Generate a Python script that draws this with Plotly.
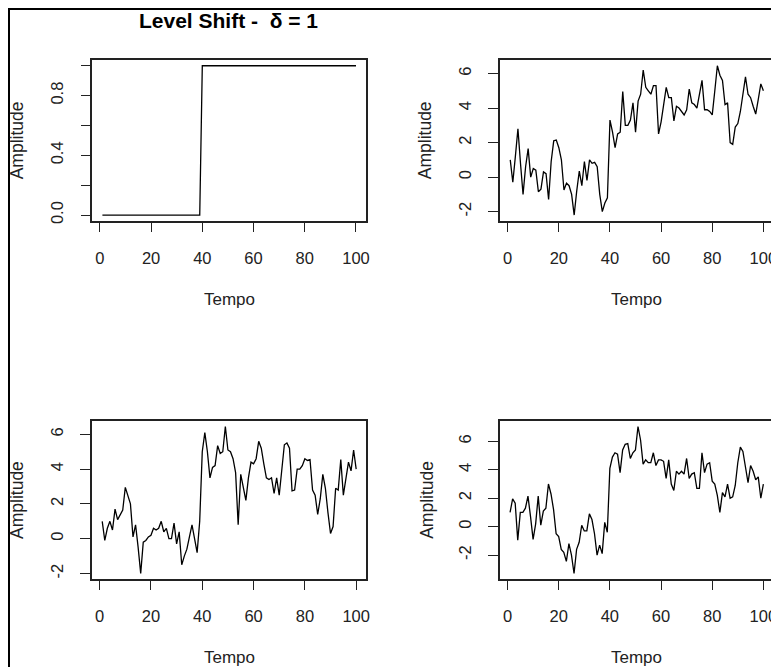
import plotly.graph_objects as go

# The page adds an 8px body margin, so the figure is shrunk and all
# reference pixel positions are shifted by that margin.
PAGE_W, PAGE_H = 779, 670
OFF = 8
W, H = PAGE_W - OFF, PAGE_H - OFF

tempo = list(range(1, 101))

# Panel 1: level shift indicator
shift = [0.0] * 39 + [1.0] * 61

# Panel 2
serie2 = [1.0, -0.3, 1.2, 2.8, 0.8, -1.0, 0.6, 1.65, 0.0, 0.5,
          0.4, -0.85, -0.7, 0.3, 0.2, -1.3, 0.9, 2.1, 2.15, 1.7,
          1.0, -0.75, -0.35, -0.5, -1.0, -2.2, -0.8, 0.35, -0.5, 0.9,
          -0.2, 1.0, 0.8, 0.85, 0.6, -1.0, -2.0, -1.5, -1.2, 3.3,
          2.6, 1.7, 2.5, 2.6, 4.95, 3.0, 3.0, 3.3, 4.3, 2.6,
          4.4, 4.8, 6.2, 5.2, 5.0, 4.8, 5.3, 5.3, 2.5, 3.2,
          4.2, 5.2, 4.6, 4.6, 3.25, 4.1, 4.0, 3.8, 3.6, 3.9,
          5.1, 4.3, 4.2, 4.0, 4.8, 5.6, 3.9, 3.9, 3.8, 3.6,
          5.0, 6.45, 5.9, 5.6, 4.2, 4.3, 2.0, 1.9, 2.9, 3.1,
          3.8, 4.7, 5.8, 4.8, 4.6, 4.1, 3.65, 4.5, 5.4, 5.0]

# Panel 3
serie3 = [1.0, -0.1, 0.6, 1.0, 0.5, 1.7, 1.1, 1.4, 1.65, 2.95,
          2.5, 2.0, 0.1, 0.8, -0.5, -2.0, -0.2, -0.1, 0.1, 0.2,
          0.6, 0.5, 0.6, 1.0, 0.4, 0.6, 0.0, 0.0, 0.9, -0.3,
          0.4, -1.5, -1.0, -0.6, 0.1, 0.8, 0.0, -0.8, 1.0, 5.0,
          6.1, 5.0, 3.5, 4.1, 4.2, 5.35, 4.9, 5.0, 6.45, 5.1,
          5.0, 4.6, 3.8, 0.8, 3.7, 2.9, 2.2, 3.5, 4.4, 4.3,
          4.6, 5.6, 5.2, 4.3, 3.5, 3.4, 3.5, 2.6, 3.5, 2.5,
          3.8, 5.4, 5.5, 5.2, 2.75, 2.8, 4.0, 4.0, 4.2, 4.6,
          4.5, 4.55, 2.8, 2.5, 1.4, 2.3, 3.7, 2.9, 1.5, 0.3,
          0.7, 2.9, 2.8, 4.55, 2.5, 3.5, 4.4, 3.9, 5.1, 4.0]

# Panel 4
serie4 = [1.0, 1.95, 1.65, -0.95, 1.0, 1.0, 1.3, 2.15, 0.7, -0.9,
          0.2, 2.15, 0.1, 1.1, 1.3, 3.0, 2.3, 1.2, -0.5, -0.7,
          -1.6, -1.8, -2.45, -1.2, -2.0, -3.3, -1.6, -1.1, 0.1, -0.3,
          -0.3, 0.9, 0.5, -0.5, -2.0, -1.3, -1.9, 0.3, -0.4, 4.1,
          4.9, 5.2, 5.1, 3.8, 5.4, 5.8, 5.85, 4.8, 5.2, 5.4,
          7.05, 6.1, 4.4, 4.7, 4.5, 4.5, 5.2, 4.3, 4.7, 4.7,
          4.6, 3.4, 4.7, 3.0, 2.55, 3.9, 3.7, 3.9, 3.7, 4.8,
          3.4, 3.7, 3.8, 2.7, 2.7, 5.2, 3.8, 4.4, 4.5, 3.2,
          3.0, 2.2, 1.0, 2.4, 2.1, 3.0, 2.0, 2.1, 2.9, 4.5,
          5.6, 5.3, 4.2, 3.1, 4.3, 3.9, 3.3, 3.5, 2.0, 3.0]

x_ticks = [0, 20, 40, 60, 80, 100]
y1_ticks = [0.0, 0.2, 0.4, 0.6, 0.8, 1.0]
y1_labels = ["0.0", "", "0.4", "", "0.8", ""]
y_ticks = [-2, 0, 2, 4, 6]
y_labels = ["-2", "0", "2", "4", "6"]

title_text = "Level Shift -\u00a0\u00a0δ = 1"
x_title = "Tempo"
y_title = "Amplitude"

FONT = "Liberation Sans, Arial, Helvetica, sans-serif"
INK = "#222222"

# panel boxes in page pixels: (left, right, top, bottom)
boxes = [
    (92.7, 368.0, 60.0, 222.0),
    (502.7, 777.5, 60.0, 222.0),
    (92.5, 368.2, 422.5, 582.0),
    (502.5, 777.5, 422.5, 582.0),
]
ylab_x = [17, 428, 17, 429]
xlab_y = [301, 301, 660, 660]

series = [shift, serie2, serie3, serie4]
yticks = [(y1_ticks, y1_labels), (y_ticks, y_labels), (y_ticks, y_labels), (y_ticks, y_labels)]


def px(x):
    return (x - OFF) / W


def py(y):
    return 1 - (y - OFF) / H


def ext_range(vals):
    lo, hi = min(vals), max(vals)
    d = (hi - lo) * 0.04
    return [lo - d, hi + d]


fig = go.Figure()
layout = dict(
    width=W, height=H,
    margin=dict(l=0, r=0, t=0, b=0),
    paper_bgcolor="white", plot_bgcolor="white",
    showlegend=False,
    font=dict(family=FONT, size=16, color=INK),
)
annotations = []
shapes = []

for i, (vals, box, (tv, tt)) in enumerate(zip(series, boxes, yticks)):
    n = i + 1
    xa = "x" if n == 1 else f"x{n}"
    ya = "y" if n == 1 else f"y{n}"
    fig.add_trace(go.Scatter(x=tempo, y=vals, mode="lines",
                             line=dict(color="black", width=1.3),
                             xaxis=xa, yaxis=ya, hoverinfo="skip"))
    l, r, t, b = box
    layout[f"xaxis{'' if n == 1 else n}"] = dict(
        domain=[px(l), min(px(r), 1.0)], anchor=ya,
        range=ext_range(tempo), tickvals=x_ticks,
        ticks="outside", ticklen=9, tickwidth=1.3, tickcolor=INK,
        showline=True, mirror=True, linecolor=INK, linewidth=1.5,
        showgrid=False, zeroline=False,
        ticklabelstandoff=12,
        tickfont=dict(size=16.5, family=FONT, color=INK),
    )
    layout[f"yaxis{'' if n == 1 else n}"] = dict(
        domain=[py(b), py(t)], anchor=xa,
        range=ext_range(vals), tickvals=tv, ticktext=tt,
        tickangle=-90,
        ticks="outside", ticklen=10, tickwidth=1.3, tickcolor=INK,
        showline=True, mirror=True, linecolor=INK, linewidth=1.5,
        showgrid=False, zeroline=False,
        ticklabelstandoff=11,
        tickfont=dict(size=16.5, family=FONT, color=INK),
    )
    annotations.append(dict(text=x_title, x=px((l + r) / 2), y=py(xlab_y[i]),
                            xref="paper", yref="paper", showarrow=False,
                            xanchor="center", yanchor="middle",
                            font=dict(size=17, family=FONT, color=INK)))
    annotations.append(dict(text=y_title, x=px(ylab_x[i]), y=py((t + b) / 2),
                            xref="paper", yref="paper", showarrow=False,
                            textangle=-90, xanchor="center", yanchor="middle",
                            font=dict(size=17.5, family=FONT, color=INK)))

# main title, boxed so that it stays inside the figure
annotations.append(dict(text="<b>" + title_text + "</b>", x=px(230), y=1.0,
                        xref="paper", yref="paper", showarrow=False,
                        xanchor="center", yanchor="top",
                        height=21, valign="middle",
                        font=dict(size=21, family=FONT, color="black")))

# outer frame (left and top edges visible)
shapes.append(dict(type="line", xref="paper", yref="paper",
                   x0=0.0, x1=1.0, y0=1.0, y1=1.0,
                   line=dict(color="black", width=4)))
shapes.append(dict(type="line", xref="paper", yref="paper",
                   x0=0.0, x1=0.0, y0=1.0, y1=0.0,
                   line=dict(color="black", width=4)))

layout["annotations"] = annotations
layout["shapes"] = shapes
fig.update_layout(**layout)
fig.write_html("out.html")
